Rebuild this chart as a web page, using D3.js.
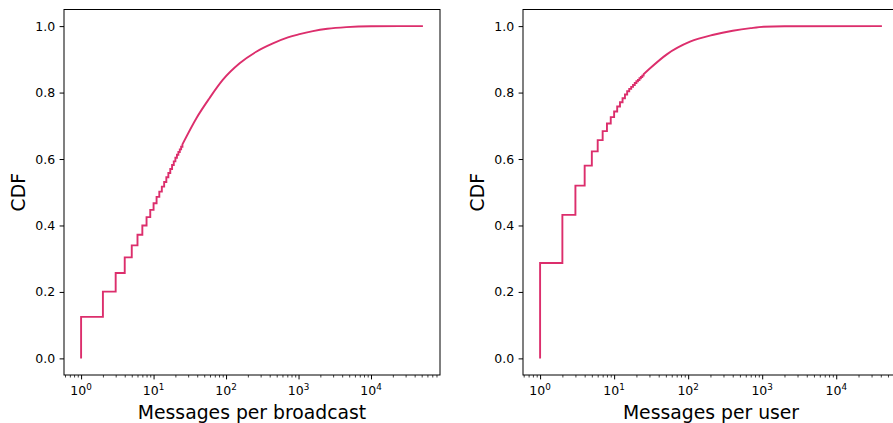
<!DOCTYPE html>
<html><head><meta charset="utf-8">
<script src="https://cdn.jsdelivr.net/npm/d3@7"></script>
<style>body{margin:0;background:#fff}svg{display:block}text{font-family:"DejaVu Sans",sans-serif;fill:#000}</style>
</head><body><svg id="c" width="893" height="423"></svg>
<script>
// ---- data ----
const bcastStepValues = [1,2,3,4,5,6,7,8,9,10,11,12,13,14,15,16,17,18,19,20,21,22,23,24,25];
const bcastStepCDF    = [0.125,0.201,0.257,0.304,0.340,0.372,0.400,0.425,0.447,0.467,0.486,0.502,0.517,0.531,0.545,0.558,0.570,0.582,0.593,0.604,0.613,0.621,0.629,0.637,0.644];
const bcastTailValues = [39,59,90,154,261,443,714,1000,1580,2500,4570,10000,52000];
const bcastTailCDF    = [0.723,0.783,0.838,0.888,0.923,0.948,0.966,0.975,0.985,0.992,0.997,0.9995,1.0];

const userStepValues = [1,2,3,4,5,6,7,8,9,10,11,12,13,14,15,16,17,18,19,20,21,22,23,24,25];
const userStepCDF    = [0.287,0.432,0.520,0.580,0.623,0.657,0.684,0.707,0.726,0.743,0.758,0.771,0.783,0.794,0.804,0.811,0.817,0.823,0.829,0.834,0.838,0.843,0.847,0.851,0.855];
const userTailValues = [30.6,51.5,106,220,400,700,1040,2000,41400];
const userTailCDF    = [0.873,0.915,0.953,0.974,0.986,0.994,0.998,0.9995,1.0];

const yTicks = [0.0,0.2,0.4,0.6,0.8,1.0];
const xTickExps = [0,1,2,3,4];
const yLabel = "CDF";
const panels = [
  {xlabel:"Messages per broadcast", sv:bcastStepValues, sc:bcastStepCDF, tv:bcastTailValues, tc:bcastTailCDF, x0:64, x1:440},
  {xlabel:"Messages per user", sv:userStepValues, sc:userStepCDF, tv:userTailValues, tc:userTailCDF, x0:523, x1:899}
];

const svg = d3.select("#c");
const lineColor = "#dc2e6c";
const yTop = 9.5, yBottom = 375;

panels.forEach(p => {
  const g = svg.append("g");
  const allX = p.sv.concat(p.tv);
  const lmin = Math.log10(d3.min(allX)), lmax = Math.log10(d3.max(allX));
  const mg = (lmax - lmin) * 0.05;
  const x = d3.scaleLog().domain([Math.pow(10, lmin - mg), Math.pow(10, lmax + mg)]).range([p.x0, p.x1]);
  const y = d3.scaleLinear().domain([-0.05, 1.05]).range([yBottom, yTop]);

  // line
  const stepPts = [[p.sv[0], 0]].concat(p.sv.map((v,i)=>[v, p.sc[i]]));
  const tailPts = [[p.sv[p.sv.length-1], p.sc[p.sc.length-1]]].concat(p.tv.map((v,i)=>[v, p.tc[i]]));
  const stepLine = d3.line().x(d=>x(d[0])).y(d=>y(d[1])).curve(d3.curveStepAfter);
  const tailLine = d3.line().x(d=>x(d[0])).y(d=>y(d[1])).curve(d3.curveMonotoneX);
  g.append("path").attr("d", stepLine(stepPts) + tailLine(tailPts).replace(/^M/, "L"))
    .attr("fill","none").attr("stroke",lineColor).attr("stroke-width",1.9).attr("stroke-linejoin","miter").attr("stroke-linecap","butt");

  // frame
  g.append("rect").attr("x",p.x0).attr("y",yTop).attr("width",p.x1-p.x0).attr("height",yBottom-yTop)
    .attr("fill","none").attr("stroke","#000").attr("stroke-width",1);

  // y axis
  const ya = d3.axisLeft(y).tickValues(yTicks).tickFormat(d3.format(".1f")).tickSize(4.4).tickPadding(4.4);
  const yg = g.append("g").attr("transform",`translate(${p.x0},0)`).call(ya);
  yg.select(".domain").remove();
  yg.selectAll("text").style("font-size","12.5px").attr("font-family","DejaVu Sans");
  yg.selectAll("line").attr("stroke","#000").attr("stroke-width",1);

  // x axis major
  const majors = xTickExps.map(e=>Math.pow(10,e));
  const xa = d3.axisBottom(x).tickValues(majors).tickFormat("").tickSize(4.4);
  const xg = g.append("g").attr("transform",`translate(0,${yBottom})`).call(xa);
  xg.select(".domain").remove();
  xg.selectAll("line").attr("stroke","#000").attr("stroke-width",1);
  // minor
  const [d0,d1] = x.domain();
  const minors = [];
  for (let e = Math.floor(Math.log10(d0)); e <= Math.ceil(Math.log10(d1)); e++)
    for (let k = 2; k <= 9; k++) { const v = k*Math.pow(10,e); if (v>=d0 && v<=d1) minors.push(v); }
  const xm = d3.axisBottom(x).tickValues(minors).tickFormat("").tickSize(2.5);
  const xmg = g.append("g").attr("transform",`translate(0,${yBottom})`).call(xm);
  xmg.select(".domain").remove();
  xmg.selectAll("line").attr("stroke","#000").attr("stroke-width",0.75);
  // major labels with superscript
  xTickExps.forEach(e => {
    const t = g.append("text").attr("x", x(Math.pow(10,e))).attr("y", 395).attr("text-anchor","middle").style("font-size","12.5px");
    t.append("tspan").text("10");
    t.append("tspan").attr("dy",-5).style("font-size","8.8px").text(String(e));
  });

  // labels
  g.append("text").attr("x",(p.x0+p.x1)/2).attr("y",418.5).attr("text-anchor","middle").style("font-size","18.8px").text(p.xlabel);
  g.append("text").attr("transform",`translate(${p.x0-39},${(yTop+yBottom)/2}) rotate(-90)`).attr("text-anchor","middle").style("font-size","18.8px").text(yLabel);
});
</script></body></html>
